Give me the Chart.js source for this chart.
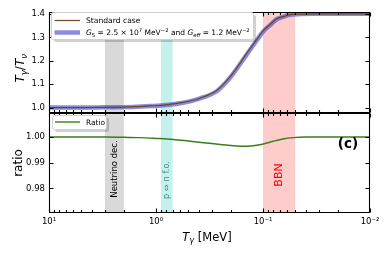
<!DOCTYPE html>
<html><head><meta charset="utf-8">
<script src="https://cdn.jsdelivr.net/npm/chart.js@4.4.0/dist/chart.umd.min.js"></script>
<style>html,body{margin:0;padding:0;background:#fff}#wrap{width:390px;height:260px;position:relative}</style>
</head><body><div id="wrap"><canvas id="c" width="390" height="260"></canvas></div>
<script>
// ---- data (temperatures in MeV) ----
const temps        = [10, 5, 3, 2, 1.5, 1.14, 0.8, 0.556, 0.4, 0.271, 0.22, 0.189, 0.16, 0.132, 0.115, 0.099, 0.085, 0.0745, 0.065, 0.056, 0.045, 0.035, 0.02, 0.01];
const standardCase = [1.000, 1.000, 1.001, 1.002, 1.004, 1.007, 1.012, 1.022, 1.038, 1.073, 1.113, 1.150, 1.197, 1.252, 1.290, 1.330, 1.357, 1.380, 1.389, 1.398, 1.400, 1.401, 1.401, 1.401];
const modifiedCase = [1.000, 1.000, 1.001, 1.002, 1.004, 1.0065, 1.011, 1.0205, 1.0375, 1.070, 1.1095, 1.1465, 1.193, 1.2475, 1.286, 1.3265, 1.3545, 1.378, 1.388, 1.3975, 1.400, 1.401, 1.401, 1.401];
const ratioTemps   = [10, 5, 3, 2, 1.41, 1, 0.69, 0.5, 0.336, 0.25, 0.2, 0.164, 0.13, 0.107, 0.09, 0.08, 0.065, 0.052, 0.04, 0.02, 0.01];
const ratioValues  = [1.0000, 1.0000, 1.0000, 0.9999, 0.9998, 0.9995, 0.9991, 0.9985, 0.9977, 0.9971, 0.9967, 0.9964, 0.9965, 0.9970, 0.9978, 0.9984, 0.9993, 0.9998, 1.0000, 1.0000, 1.0000];
const xTickValues  = [10, 1, 0.1, 0.01];
const xTickLabels  = ['10¹', '10⁰', '10⁻¹', '10⁻²'];
const topTicks     = [1.0, 1.1, 1.2, 1.3, 1.4];
const bottomTicks  = [0.98, 0.99, 1.00];
const bandRanges   = [[3, 2], [0.9, 0.7], [0.1, 0.05]];
const bandLabels   = ['Neutrino dec.', 'p ⇔ n f.o.', 'BBN'];

const FF = '"DejaVu Sans", sans-serif';
const bandFill  = ['rgba(128,128,128,0.3)', 'rgba(64,210,196,0.3)', 'rgba(255,0,0,0.2)'];
const bandText  = ['#000000', '#3f8d89', '#ff0000'];
const bandFont  = [8.5, 8.3, 11];
const bandTextY = [169, 180, 175];

function runsWidth(ctx, runs) {
  let w = 0;
  for (const r of runs) { ctx.font = (r.st || '') + ' ' + r.s + 'px ' + FF; w += ctx.measureText(r.t).width; }
  return w;
}
function drawRuns(ctx, x, y, runs, color) {
  ctx.fillStyle = color || '#000';
  ctx.textBaseline = 'alphabetic';
  ctx.textAlign = 'left';
  for (const r of runs) {
    ctx.font = (r.st || '') + ' ' + r.s + 'px ' + FF;
    ctx.fillText(r.t, x, y + (r.dy || 0));
    x += ctx.measureText(r.t).width;
  }
}
function legendBox(ctx, x, y, w, h) {
  ctx.save();
  ctx.fillStyle = 'rgba(0,0,0,0.18)';
  roundRect(ctx, x + 2.5, y + 2.5, w, h, 2); ctx.fill();
  ctx.fillStyle = '#fff';
  roundRect(ctx, x, y, w, h, 2); ctx.fill();
  ctx.strokeStyle = '#d0d0d0'; ctx.lineWidth = 1;
  roundRect(ctx, x, y, w, h, 2); ctx.stroke();
  ctx.restore();
}
function roundRect(ctx, x, y, w, h, r) {
  ctx.beginPath();
  ctx.moveTo(x + r, y); ctx.lineTo(x + w - r, y); ctx.arcTo(x + w, y, x + w, y + r, r);
  ctx.lineTo(x + w, y + h - r); ctx.arcTo(x + w, y + h, x + w - r, y + h, r);
  ctx.lineTo(x + r, y + h); ctx.arcTo(x, y + h, x, y + h - r, r);
  ctx.lineTo(x, y + r); ctx.arcTo(x, y, x + r, y, r); ctx.closePath();
}

const decorPlugin = {
  id: 'decor',
  beforeDatasetsDraw(chart) {
    const ctx = chart.ctx, xs = chart.scales.x, a = chart.chartArea;
    ctx.save();
    bandRanges.forEach((b, i) => {
      const x1 = xs.getPixelForValue(b[0]), x2 = xs.getPixelForValue(b[1]);
      ctx.fillStyle = bandFill[i];
      ctx.fillRect(Math.min(x1, x2), a.top, Math.abs(x2 - x1), a.bottom - a.top);
    });
    ctx.restore();
  },
  afterDatasetsDraw(chart) {
    const ctx = chart.ctx, xs = chart.scales.x, yt = chart.scales.y, yb = chart.scales.yr, a = chart.chartArea;
    ctx.save();
    // band labels
    bandRanges.forEach((b, i) => {
      const xc = xs.getPixelForValue(Math.sqrt(b[0] * b[1]));
      ctx.save();
      ctx.translate(xc, bandTextY[i]);
      ctx.rotate(-Math.PI / 2);
      ctx.font = bandFont[i] + 'px ' + FF;
      ctx.fillStyle = bandText[i];
      ctx.textAlign = 'center'; ctx.textBaseline = 'middle';
      ctx.fillText(bandLabels[i], 0, 0);
      ctx.restore();
    });
    // frames & ticks
    const L = Math.round(a.left) + 0.5, R = Math.round(a.right) - 0.5;
    const panels = [[yt, topTicks], [yb, bottomTicks]];
    ctx.strokeStyle = '#000'; ctx.lineWidth = 1.1;
    const minor = [];
    for (let e = -2; e <= 0; e++) for (let k = 2; k <= 9; k++) minor.push(k * Math.pow(10, e));
    panels.forEach(([sc, tv]) => {
      const T = Math.round(sc.top) + 0.5, B = Math.round(sc.bottom) - 0.5;
      ctx.beginPath(); ctx.rect(L, T, R - L, B - T); ctx.stroke();
      ctx.beginPath();
      xTickValues.forEach(v => { const x = Math.round(xs.getPixelForValue(v)) + 0.5; ctx.moveTo(x, T); ctx.lineTo(x, T + 4); ctx.moveTo(x, B); ctx.lineTo(x, B - 4); });
      minor.forEach(v => { const x = Math.round(xs.getPixelForValue(v)) + 0.5; ctx.moveTo(x, T); ctx.lineTo(x, T + 2.5); ctx.moveTo(x, B); ctx.lineTo(x, B - 2.5); });
      tv.forEach(v => { const y = Math.round(sc.getPixelForValue(v)) + 0.5; ctx.moveTo(L, y); ctx.lineTo(L + 4, y); ctx.moveTo(R, y); ctx.lineTo(R - 4, y); });
      ctx.stroke();
    });
    // legends
    legendBox(ctx, 51.5, 12.5, 202, 27);
    ctx.lineCap = 'butt';
    ctx.strokeStyle = '#7a5230'; ctx.lineWidth = 1.3;
    ctx.beginPath(); ctx.moveTo(54.5, 20.5); ctx.lineTo(80, 20.5); ctx.stroke();
    ctx.strokeStyle = 'rgba(63,63,197,0.6)'; ctx.lineWidth = 4.5;
    ctx.beginPath(); ctx.moveTo(54.5, 32.5); ctx.lineTo(80, 32.5); ctx.stroke();
    drawRuns(ctx, 86, 23.3, [{t: 'Standard case', s: 7.6}]);
    drawRuns(ctx, 86, 35.2, [
      {t: 'G', s: 7.5, st: 'italic'}, {t: 'S', s: 5.3, dy: 1.4},
      {t: ' = 2.5 × 10', s: 7.5}, {t: '7', s: 5.3, dy: -3},
      {t: ' MeV', s: 7.5}, {t: '−2', s: 5.3, dy: -3},
      {t: ' and ', s: 7.5},
      {t: 'G', s: 7.5, st: 'italic'}, {t: 'eff', s: 5.3, st: 'italic', dy: 1.4},
      {t: ' = 1.2 MeV', s: 7.5}, {t: '−2', s: 5.3, dy: -3}
    ]);
    legendBox(ctx, 52.5, 115.5, 54, 14);
    ctx.strokeStyle = '#3a7d1b'; ctx.lineWidth = 1.4;
    ctx.beginPath(); ctx.moveTo(55, 122); ctx.lineTo(80, 122); ctx.stroke();
    drawRuns(ctx, 86, 124.8, [{t: 'Ratio', s: 7.4}]);
    // (c)
    ctx.font = 'bold 13.5px ' + FF; ctx.fillStyle = '#000';
    ctx.textAlign = 'center'; ctx.textBaseline = 'middle';
    ctx.fillText('(c)', 348, 144);
    // axis titles
    const ytRuns = [{t: 'T', s: 12, st: 'italic'}, {t: 'γ', s: 8.5, st: 'italic', dy: 2.5}, {t: '/', s: 12}, {t: 'T', s: 12, st: 'italic'}, {t: 'ν', s: 8.5, st: 'italic', dy: 2.5}];
    ctx.save(); ctx.translate(24, (yt.top + yt.bottom) / 2 + 6); ctx.rotate(-Math.PI / 2);
    drawRuns(ctx, -runsWidth(ctx, ytRuns) / 2, 0, ytRuns); ctx.restore();
    const yrRuns = [{t: 'ratio', s: 12}];
    ctx.save(); ctx.translate(21.5, 163); ctx.rotate(-Math.PI / 2);
    drawRuns(ctx, -runsWidth(ctx, yrRuns) / 2, 0, yrRuns); ctx.restore();
    const xRuns = [{t: 'T', s: 11.5, st: 'italic'}, {t: 'γ', s: 8.2, st: 'italic', dy: 2.4}, {t: ' [MeV]', s: 11.5}];
    drawRuns(ctx, 207 - runsWidth(ctx, xRuns) / 2, 241, xRuns);
    ctx.restore();
  }
};

const tickFont = {family: FF, size: 8.5};
new Chart(document.getElementById('c').getContext('2d'), {
  type: 'line',
  data: {datasets: [
    {label: 'Standard case', data: temps.map((t, i) => ({x: t, y: standardCase[i]})), yAxisID: 'y', borderColor: '#6b4525', borderWidth: 1.2, pointRadius: 0, cubicInterpolationMode: 'monotone'},
    {label: 'Modified', data: temps.map((t, i) => ({x: t, y: modifiedCase[i]})), yAxisID: 'y', borderColor: 'rgba(63,63,197,0.6)', borderWidth: 4.5, pointRadius: 0, cubicInterpolationMode: 'monotone'},
    {label: 'Ratio', data: ratioTemps.map((t, i) => ({x: t, y: ratioValues[i]})), yAxisID: 'yr', borderColor: '#3a7d1b', borderWidth: 1.5, pointRadius: 0, cubicInterpolationMode: 'monotone'}
  ]},
  options: {
    responsive: false, animation: false, devicePixelRatio: 1,
    layout: {padding: {top: 12, right: 20, left: 0, bottom: 0}},
    plugins: {legend: {display: false}, tooltip: {enabled: false}},
    scales: {
      x: {type: 'logarithmic', reverse: true, min: 0.01, max: 10,
        grid: {display: false, drawTicks: false}, border: {display: false},
        afterBuildTicks: s => { s.ticks = xTickValues.map(v => ({value: v})); },
        afterFit: s => { s.height = 47; },
        ticks: {autoSkip: false, maxRotation: 0, padding: 4, font: tickFont, color: '#000', callback: (v, i) => xTickLabels[i]}},
      yr: {type: 'linear', position: 'left', stack: 'panels', stackWeight: 1, min: 0.9704, max: 1.0096,
        grid: {display: false, drawTicks: false}, border: {display: false},
        afterBuildTicks: s => { s.ticks = bottomTicks.map(v => ({value: v})); },
        afterFit: s => { s.width = 49; },
        ticks: {padding: 4, font: tickFont, color: '#000', callback: (v, i) => bottomTicks[i].toFixed(2)}},
      y: {type: 'linear', position: 'left', stack: 'panels', stackWeight: 1, min: 0.979, max: 1.409,
        grid: {display: false, drawTicks: false}, border: {display: false},
        afterBuildTicks: s => { s.ticks = topTicks.map(v => ({value: v})); },
        afterFit: s => { s.width = 49; },
        ticks: {padding: 4, font: tickFont, color: '#000', callback: (v, i) => topTicks[i].toFixed(1)}}
    }
  },
  plugins: [decorPlugin]
});
</script></body></html>
